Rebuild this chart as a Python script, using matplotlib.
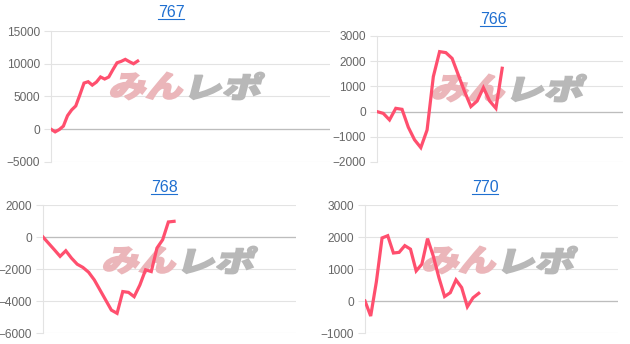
import numpy as np
import matplotlib
matplotlib.use("Agg")
import matplotlib.pyplot as plt
from matplotlib.textpath import TextPath
from matplotlib.patches import PathPatch
from matplotlib.font_manager import FontProperties
from matplotlib.transforms import Affine2D
from matplotlib.lines import Line2D

# machine numbers and their running balance
titles = ["767", "766", "768", "770"]

vals_767 = [0, -400, -50, 480, 2070, 2950, 3560, 5260, 7050, 7260, 6740,
            7200, 7980, 7670, 7980, 9100, 10150, 10360, 10670, 10310, 10000, 10410]
vals_766 = [0, -70, -330, 130, 90, -620, -1120, -1430, -730, 1390, 2380,
            2340, 2110, 1450, 790, 200, 420, 950, 420, 130, 1720]
vals_768 = [0, -400, -800, -1210, -860, -1320, -1700, -1900, -2200, -2680,
            -3310, -3940, -4570, -4770, -3410, -3460, -3730, -3000, -2050,
            -2160, -690, -170, 940, 980]
vals_770 = [0, -470, 600, 1970, 2040, 1500, 1520, 1730, 1620, 940, 1150,
            1950, 1410, 730, 140, 260, 660, 420, -180, 100, 240]

series = [vals_767, vals_766, vals_768, vals_770]
y_ranges = [(-5000, 15000, 5000), (-2000, 3000, 1000),
            (-6000, 2000, 2000), (-1000, 3000, 1000)]
x_max = [67.6, 39.3, 44.4, 44.5]

W, H = 630, 344
# axes boxes in pixels: left, top, right, bottom
boxes = [(51, 31, 330, 162), (377, 36, 623, 162),
         (43, 205, 296, 333), (365, 205, 618, 333)]
title_pos = [(171, 17), (493, 24), (164, 192), (485, 192)]
logo_centers = [(187, 86), (509, 88), (180, 260), (500, 260)]

LINE = "#ff4f6e"
GRID = "#e3e3e3"
TEXT = "#666666"
LINK = "#1f6fd0"

plt.rcParams["font.family"] = ["Liberation Sans", "DejaVu Sans"]

fig = plt.figure(figsize=(W / 100, H / 100), dpi=100)
fig.patch.set_facecolor("white")

jp = FontProperties(family="Noto Sans CJK JP", weight="black")


def logo_part(ax, text, cx, cy, w, h, color):
    # stretched, slanted text glyphs placed in pixel coords
    tp = TextPath((0, 0), text, size=1, prop=jp)
    bb = tp.get_extents()
    shear = np.tan(np.radians(14))
    w_body = w - h * shear
    tr = (Affine2D().translate(-bb.x0, -bb.y0)
          .scale(w_body / bb.width, h / bb.height)
          .skew(shear, 0)
          .translate(cx - w / 2, H - cy - h / 2))
    patch = PathPatch(tp, transform=tr, facecolor=color, edgecolor=color,
                      lw=1.3, zorder=1.5, clip_on=False)
    ax.add_artist(patch)


axes = []
for i in range(4):
    l, t, r, b = boxes[i]
    ax = fig.add_axes([l / W, 1 - b / H, (r - l) / W, (b - t) / H])
    axes.append(ax)
    y = series[i]
    x = np.arange(len(y))
    ax.plot(x, y, color=LINE, lw=2.3, solid_joinstyle="miter", zorder=3)

    lo, hi, step = y_ranges[i]
    ax.set_ylim(lo, hi)
    ax.set_xlim(0, x_max[i])
    ax.set_yticks(np.arange(lo, hi + 1, step))
    ax.set_xticks([])
    ax.yaxis.grid(True, color=GRID, lw=0.8)
    ax.set_axisbelow(True)
    ax.axhline(0, color="#bdbdbd", lw=0.9, zorder=1.2)
    for s in ["top", "right", "bottom"]:
        ax.spines[s].set_visible(False)
    ax.spines["left"].set_color(GRID)
    ax.spines["left"].set_linewidth(0.8)
    ax.tick_params(axis="y", length=5, width=0.8, color=GRID, pad=3,
                   labelsize=8.6, labelcolor=TEXT)
    ax.set_facecolor("none")

    cx, cy = logo_centers[i]
    logo_part(ax, "みん", cx - 39, cy, 78, 27, "#ebb6ba")
    logo_part(ax, "レポ", cx + 40, cy, 76, 27, "#b8b8b8")

    tx, ty = title_pos[i]
    fig.text(tx / W, 1 - ty / H, titles[i], ha="center", va="baseline",
             fontsize=11.5, color=LINK)
    fig.add_artist(Line2D([(tx - 13) / W, (tx + 13) / W],
                          [1 - (ty + 1.8) / H, 1 - (ty + 1.8) / H],
                          color=LINK, lw=0.8))

fig.savefig("out.png", dpi=100)
